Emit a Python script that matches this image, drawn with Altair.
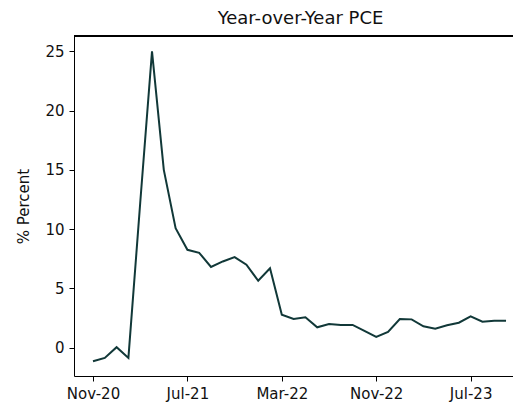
import altair as alt
import pandas as pd

months = ["Nov-20", "Dec-20", "Jan-21", "Feb-21", "Mar-21", "Apr-21", "May-21", "Jun-21",
          "Jul-21", "Aug-21", "Sep-21", "Oct-21", "Nov-21", "Dec-21", "Jan-22", "Feb-22",
          "Mar-22", "Apr-22", "May-22", "Jun-22", "Jul-22", "Aug-22", "Sep-22", "Oct-22",
          "Nov-22", "Dec-22", "Jan-23", "Feb-23", "Mar-23", "Apr-23", "May-23", "Jun-23",
          "Jul-23", "Aug-23", "Sep-23", "Oct-23"]
pce = [-1.15, -0.87, 0.03, -0.87, 12.2, 25.0, 15.0, 10.07,
       8.25, 8.0, 6.8, 7.27, 7.63, 6.99, 5.64, 6.7,
       2.78, 2.41, 2.55, 1.71, 1.99, 1.91, 1.91, 1.4,
       0.9, 1.32, 2.41, 2.38, 1.8, 1.6, 1.88, 2.1,
       2.64, 2.19, 2.27, 2.27]
tick_labels = ["Nov-20", "Jul-21", "Mar-22", "Nov-22", "Jul-23"]
y_ticks = [0, 5, 10, 15, 20, 25]

df = pd.DataFrame({"idx": list(range(len(months))), "month": months, "pce": pce})
tick_idx = [months.index(t) for t in tick_labels]

label_expr = "{" + ",".join(f"'{i}':'{t}'" for i, t in zip(tick_idx, tick_labels)) + "}[''+datum.value]"

FONT = "DejaVu Sans"
W, H = 439, 340

line = alt.Chart(df).mark_line(color="#113838", strokeWidth=2).encode(
    x=alt.X("idx:Q", title=None,
            scale=alt.Scale(domain=[-1.61, 35.59], nice=False, zero=False),
            axis=alt.Axis(values=tick_idx, labelExpr=label_expr, grid=False,
                          domainColor="black", tickColor="black", tickSize=5,
                          labelPadding=5, labelFontSize=15, labelColor="#111",
                          labelFont=FONT)),
    y=alt.Y("pce:Q", title="% Percent",
            scale=alt.Scale(domain=[-2.4, 26.3], nice=False, zero=False),
            axis=alt.Axis(values=y_ticks, grid=False, domainColor="black",
                          tickColor="black", tickSize=5, labelPadding=5,
                          labelFontSize=15, labelColor="#111", labelFont=FONT,
                          titleFont=FONT, titleFontSize=15, titleFontWeight="normal",
                          titleColor="#111", titlePadding=13)),
)

top_border = alt.Chart(df).mark_rule(color="black", strokeWidth=1).encode(
    x=alt.value(0), x2=alt.value(W), y=alt.value(0)
)

chart = alt.layer(line, top_border).properties(
    width=W, height=H,
    title=alt.TitleParams("Year-over-Year PCE", font=FONT, fontSize=18,
                          fontWeight="normal", color="#111", dx=7, offset=8),
    autosize=alt.AutoSizeParams(type="none"),
    padding={"left": 66, "top": 28, "right": 0, "bottom": 30},
    background="white",
).configure_view(stroke=None)

chart.save("out.html", embed_options={"renderer": "svg", "actions": False})
